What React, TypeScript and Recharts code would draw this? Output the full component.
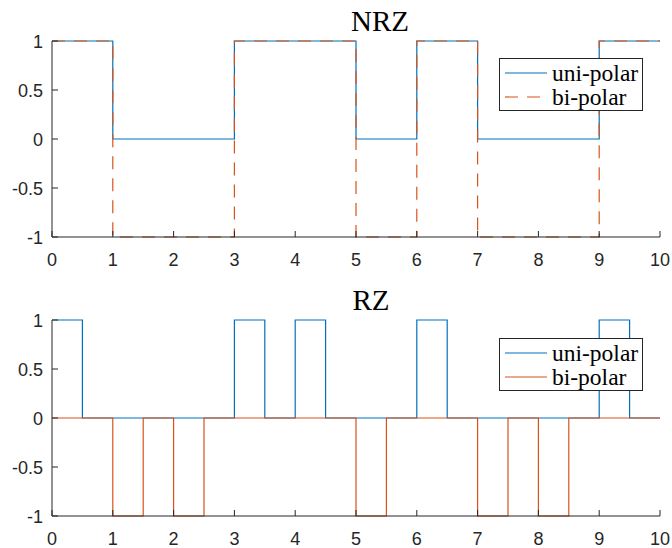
import React from 'react';
import { LineChart, Line, XAxis, YAxis, Legend } from 'recharts';

// NRZ signal (bit boundaries)
const nrzX = [0, 1, 2, 3, 4, 5, 6, 7, 8, 9, 10];
const nrzUni = [1, 0, 0, 1, 1, 0, 1, 0, 0, 1, 1];
const nrzBi = [1, -1, -1, 1, 1, -1, 1, -1, -1, 1, 1];

// RZ signal (half-bit boundaries)
const rzX = [0, 0.5, 1, 1.5, 2, 2.5, 3, 3.5, 4, 4.5, 5, 5.5, 6, 6.5, 7, 7.5, 8, 8.5, 9, 9.5, 10];
const rzUni = [1, 0, 0, 0, 0, 0, 1, 0, 1, 0, 0, 0, 1, 0, 0, 0, 0, 0, 1, 0, 0];
const rzBi = [0, 0, -1, 0, -1, 0, 0, 0, 0, 0, -1, 0, 0, 0, -1, 0, -1, 0, 0, 0, 0];

const xTicks = [0, 1, 2, 3, 4, 5, 6, 7, 8, 9, 10];
const yTicks = [-1, -0.5, 0, 0.5, 1];
const yTickLabels = ['-1', '-0.5', '0', '0.5', '1'];
const seriesNames = ['uni-polar', 'bi-polar'];
const titles = ['NRZ', 'RZ'];

const BLUE = '#0072BD';
const ORANGE = '#D95319';
const AXIS = '#262626';

const nrzData = nrzX.map((x, i) => ({ x, uni: nrzUni[i], bi: nrzBi[i] }));
const rzData = rzX.map((x, i) => ({ x, uni: rzUni[i], bi: rzBi[i] }));

const XTick = (props: any) => {
  const { x, y, payload } = props;
  return (
    <g>
      <line x1={x} y1={y} x2={x} y2={y - 6} stroke={AXIS} strokeWidth={1} />
      <text x={x} y={y + 29} textAnchor="middle" fill={AXIS} fontSize={18} fontFamily="'Liberation Sans', Arial, sans-serif">
        {String(payload.value)}
      </text>
    </g>
  );
};

const YTick = (props: any) => {
  const { x, y, payload } = props;
  const idx = yTicks.indexOf(payload.value);
  return (
    <g>
      <line x1={x} y1={y} x2={x + 6} y2={y} stroke={AXIS} strokeWidth={1} />
      <text x={x - 9} y={y + 6.5} textAnchor="end" fill={AXIS} fontSize={18} fontFamily="'Liberation Sans', Arial, sans-serif">
        {idx >= 0 ? yTickLabels[idx] : String(payload.value)}
      </text>
    </g>
  );
};

const LegendBox = ({ dashed }: { dashed: boolean }) => (
  <svg width={144} height={53} style={{ display: 'block' }}>
    <rect x={0.5} y={0.5} width={143} height={52} fill="#fff" stroke={AXIS} strokeWidth={1} />
    <line x1={6} y1={15} x2={48} y2={15} stroke={BLUE} strokeWidth={1.2} />
    <text x={53} y={22.5} fontSize={23.5} fontFamily="'Liberation Serif', 'Times New Roman', serif" fill="#000">
      {seriesNames[0]}
    </text>
    <line x1={6} y1={39} x2={48} y2={39} stroke={ORANGE} strokeWidth={1.2} strokeDasharray={dashed ? '13 9' : undefined} />
    <text x={53} y={46.5} fontSize={23.5} fontFamily="'Liberation Serif', 'Times New Roman', serif" fill="#000">
      {seriesNames[1]}
    </text>
  </svg>
);

const Panel = ({ data, dashed, marginTop, legendTop }: { data: any[]; dashed: boolean; marginTop: number; legendTop: number }) => (
  <LineChart
    width={672}
    height={274}
    data={data}
    margin={{ top: marginTop, right: 12, bottom: 274 - marginTop - 196 - 30, left: 0 }}
  >
    <XAxis
      dataKey="x"
      type="number"
      domain={[0, 10]}
      ticks={xTicks}
      interval={0}
      tickSize={0}
      tickMargin={0}
      height={30}
      axisLine={{ stroke: AXIS, strokeWidth: 1 }}
      tickLine={false}
      tick={<XTick />}
    />
    <YAxis
      type="number"
      domain={[-1, 1]}
      ticks={yTicks}
      interval={0}
      tickSize={0}
      tickMargin={0}
      width={52}
      axisLine={{ stroke: AXIS, strokeWidth: 1 }}
      tickLine={false}
      tick={<YTick />}
    />
    <Legend
      layout="horizontal"
      verticalAlign="middle"
      align="center"
      wrapperStyle={{ position: 'absolute', left: 499, top: legendTop, width: 144, height: 53 }}
      content={() => <LegendBox dashed={dashed} />}
    />
    <Line
      type="stepAfter"
      dataKey="uni"
      name={seriesNames[0]}
      stroke={BLUE}
      strokeWidth={1.2}
      dot={false}
      activeDot={false}
      isAnimationActive={false}
    />
    <Line
      type="stepAfter"
      dataKey="bi"
      name={seriesNames[1]}
      stroke={ORANGE}
      strokeWidth={1.2}
      strokeDasharray={dashed ? '13 9' : undefined}
      dot={false}
      activeDot={false}
      isAnimationActive={false}
    />
  </LineChart>
);

export default function App() {
  return (
    <div style={{ position: 'absolute', left: 0, top: 0, width: 672, height: 548, background: '#fff' }}>
      <div style={{ position: 'absolute', left: 0, top: 0 }}>
        <Panel data={nrzData} dashed={true} marginTop={41} legendTop={58} />
      </div>
      <div style={{ position: 'absolute', left: 0, top: 274 }}>
        <Panel data={rzData} dashed={false} marginTop={46} legendTop={64} />
      </div>
      <svg width={672} height={548} style={{ position: 'absolute', left: 0, top: 0, pointerEvents: 'none' }}>
        <text x={380} y={31} textAnchor="middle" fontSize={29} fontFamily="'Liberation Serif', 'Times New Roman', serif" fill="#000">
          {titles[0]}
        </text>
        <text x={371} y={310} textAnchor="middle" fontSize={29} fontFamily="'Liberation Serif', 'Times New Roman', serif" fill="#000">
          {titles[1]}
        </text>
      </svg>
    </div>
  );
}
